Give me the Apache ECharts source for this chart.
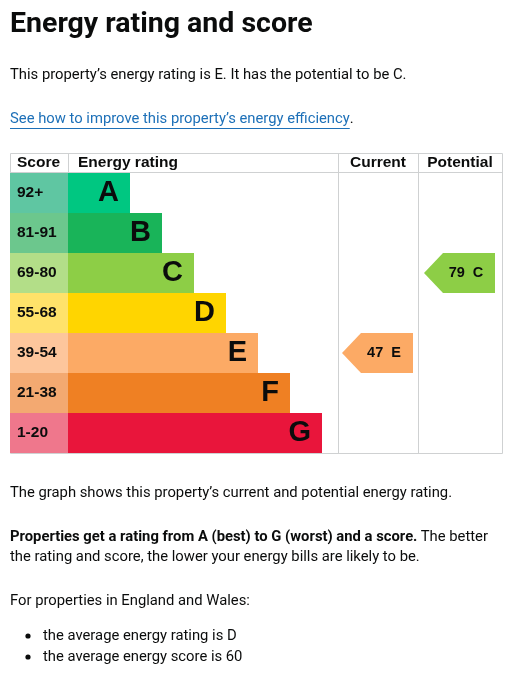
<!DOCTYPE html>
<html><head><meta charset="utf-8">
<script src="https://cdn.jsdelivr.net/npm/echarts@6/dist/echarts.min.js"></script>
<style>html,body{margin:0;padding:0;background:#fff}#c{width:509px;height:699px}</style>
</head><body><div id="c"></div><script>
// ---- data ----
const ratings = ['A', 'B', 'C', 'D', 'E', 'F', 'G'];
const scoreBands = ['92+', '81-91', '69-80', '55-68', '39-54', '21-38', '1-20'];
const barLengths = [62, 94, 126, 158, 190, 222, 254];
const bandColors = ['#00c781', '#19b459', '#8dce46', '#ffd500', '#fcaa65', '#ef8023', '#e9153b'];
const scoreColors = ['#5fc6a2', '#6cc78d', '#b3de88', '#ffe26a', '#fdc69c', '#f3a971', '#ef778c'];
const columns = ['Current', 'Potential'];
const currentScore = 47, currentRating = 'E';
const potentialScore = 79, potentialRating = 'C';

const chart = echarts.init(document.getElementById('c'), null, {renderer: 'canvas'});
const BODY = '"Roboto", "Liberation Sans", sans-serif';
const TBL = '"Liberation Sans", Arial, sans-serif';
const ink = '#0b0c0c';
const border = '#cfd1d2';
const bodyFont = '14.8px ' + BODY;

function measure(text, font) {
  const ctx = document.createElement('canvas').getContext('2d');
  ctx.font = font;
  return ctx.measureText(text).width;
}
const linkText = 'See how to improve this property\u2019s energy efficiency';
const linkW = measure(linkText, bodyFont);

function txt(x, y, text, font, fill, extra) {
  return Object.assign({type: 'text', x: x, y: y, silent: true,
    style: Object.assign({text: text, font: font, fill: fill || ink, verticalAlign: 'middle'}, extra || {})});
}

const top0 = 173, rowsH = 280;
const option = {
  animation: false,
  grid: [
    {left: 10, top: top0, width: 58, height: rowsH},
    {left: 68, top: top0, width: 270, height: rowsH},
    {left: 338, top: top0, width: 164, height: rowsH}
  ],
  xAxis: [
    {type: 'value', gridIndex: 0, min: 0, max: 1, show: false},
    {type: 'value', gridIndex: 1, min: 0, max: 270, show: false},
    {type: 'category', gridIndex: 2, data: columns, show: false}
  ],
  yAxis: [
    {type: 'category', gridIndex: 0, data: scoreBands, inverse: true, show: false},
    {type: 'category', gridIndex: 1, data: ratings, inverse: true, show: false},
    {type: 'category', gridIndex: 2, data: ratings, inverse: true, show: false}
  ],
  series: [
    {
      type: 'bar', xAxisIndex: 0, yAxisIndex: 0, barWidth: '100%',
      data: scoreBands.map((s, i) => ({value: 1, itemStyle: {color: scoreColors[i]}})),
      label: {show: true, position: 'insideLeft', distance: 7, formatter: '{b}',
        fontFamily: TBL, fontWeight: 'bold', fontSize: 15.5, color: ink},
      silent: true
    },
    {
      type: 'bar', xAxisIndex: 1, yAxisIndex: 1, barWidth: '100%',
      data: barLengths.map((v, i) => ({value: v, itemStyle: {color: bandColors[i]}})),
      label: {show: true, position: 'insideRight', distance: 11, formatter: '{b}',
        fontFamily: TBL, fontWeight: 'bold', fontSize: 29, color: ink},
      silent: true
    },
    {
      type: 'custom', xAxisIndex: 2, yAxisIndex: 2,
      data: [
        [0, ratings.indexOf(currentRating), currentScore],
        [1, ratings.indexOf(potentialRating), potentialScore]
      ],
      encode: {x: 0, y: 1},
      renderItem: function (params, api) {
        const r = api.value(1);
        const c = api.coord([api.value(0), r]);
        const h = api.size([0, 1])[1];
        const cx = c[0], cy = c[1];
        const tip = cx - 37, body = cx - 18, right = cx + 34;
        return {type: 'group', children: [
          {type: 'polygon', shape: {points: [[tip, cy], [body, cy - h / 2], [right, cy - h / 2], [right, cy + h / 2], [body, cy + h / 2]]},
            style: {fill: bandColors[r]}},
          {type: 'text', style: {text: api.value(2) + '  ' + ratings[r], x: (body + right) / 2 - 3, y: cy,
            align: 'center', verticalAlign: 'middle', font: 'bold 14.5px ' + TBL, fill: ink}}
        ]};
      },
      silent: true
    }
  ],
  graphic: [
    txt(10, 25, 'Energy rating and score', 'bold 28.5px ' + BODY),
    txt(10, 75, 'This property\u2019s energy rating is E. It has the potential to be C.', bodyFont),
    txt(10, 119, linkText, bodyFont, '#1d70b8'),
    {type: 'line', silent: true, shape: {x1: 10, y1: 128.5, x2: 10 + linkW, y2: 128.5}, style: {stroke: '#1d70b8', lineWidth: 1}},
    txt(10 + linkW, 119, '.', bodyFont),
    // table frame
    {type: 'rect', silent: true, shape: {x: 10.5, y: 153.5, width: 492, height: 300}, style: {fill: 'none', stroke: border, lineWidth: 1}},
    {type: 'line', silent: true, shape: {x1: 10, y1: 172.5, x2: 502, y2: 172.5}, style: {stroke: border, lineWidth: 1}},
    {type: 'line', silent: true, shape: {x1: 68.5, y1: 153, x2: 68.5, y2: 173}, style: {stroke: border, lineWidth: 1}},
    {type: 'line', silent: true, shape: {x1: 338.5, y1: 153, x2: 338.5, y2: 453}, style: {stroke: border, lineWidth: 1}},
    {type: 'line', silent: true, shape: {x1: 418.5, y1: 153, x2: 418.5, y2: 453}, style: {stroke: border, lineWidth: 1}},
    txt(17, 163, 'Score', 'bold 15.5px ' + TBL),
    txt(78, 163, 'Energy rating', 'bold 15.5px ' + TBL),
    txt(378, 163, columns[0], 'bold 15.5px ' + TBL, ink, {align: 'center'}),
    txt(460, 163, columns[1], 'bold 15.5px ' + TBL, ink, {align: 'center'}),
    // text below
    txt(10, 493, 'The graph shows this property\u2019s current and potential energy rating.', bodyFont),
    {type: 'text', x: 10, y: 537, silent: true, style: {
      text: '{b|Properties get a rating from A (best) to G (worst) and a score.} {n|The better}',
      verticalAlign: 'middle', fill: ink,
      rich: {b: {font: 'bold ' + bodyFont, fill: ink}, n: {font: bodyFont, fill: ink}}}},
    txt(10, 557, 'the rating and score, the lower your energy bills are likely to be.', bodyFont),
    txt(10, 601, 'For properties in England and Wales:', bodyFont),
    {type: 'circle', silent: true, shape: {cx: 28, cy: 636, r: 2.6}, style: {fill: ink}},
    txt(43, 636, 'the average energy rating is D', bodyFont),
    {type: 'circle', silent: true, shape: {cx: 28, cy: 657, r: 2.6}, style: {fill: ink}},
    txt(43, 657, 'the average energy score is 60', bodyFont)
  ]
};
chart.setOption(option);
</script></body></html>
